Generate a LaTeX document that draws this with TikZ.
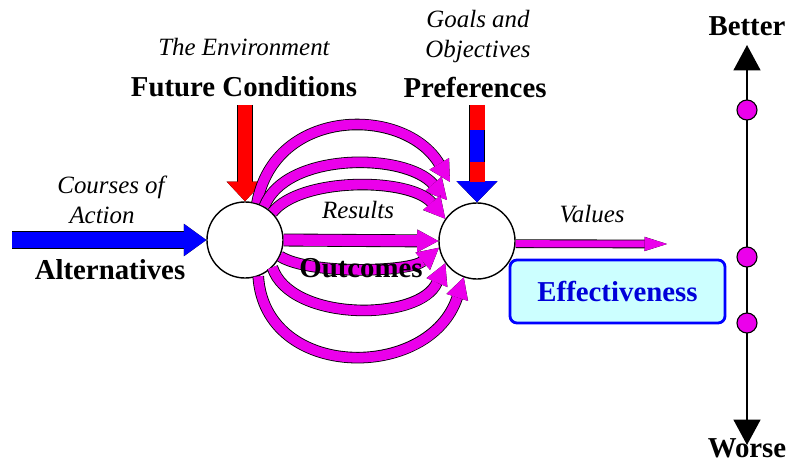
\documentclass[tikz,border=0pt]{standalone}
\usepackage{fontspec}
\setmainfont{Liberation Serif}[ItalicFont={Liberation Serif Italic}, BoldFont={Liberation Serif Bold}]
\usetikzlibrary{arrows.meta}
\definecolor{mag}{RGB}{235,0,235}
\definecolor{lightcyan}{RGB}{204,255,255}

\begin{document}
\begin{tikzpicture}[x=0.025cm, y=-0.025cm,
  bigtext/.style={font=\fontsize{20.5}{22}\selectfont\bfseries, inner sep=0pt, anchor=base},
  smalltext/.style={font=\fontsize{17.7}{19}\selectfont\itshape, inner sep=0pt, anchor=base},
  ring/.style={circle, draw, line width=1pt, fill=white, minimum size=1.9cm, inner sep=0pt},
  fat/.style n args={4}{draw=#4, line width=#1, -{Triangle[width=#2, length=#3, line width=0pt]},
    preaction={draw=black, line width=#1+1.2pt, -{Triangle[width=#2, length=#3, line width=1pt]}}},
  dot/.style={circle, draw, line width=0.8pt, fill=mag, minimum size=0.5cm, inner sep=0pt}]
  \useasboundingbox (0,0) rectangle (788,464);
  % the two meeting points
  \node[ring] (oc) at (245,240) {};
  \node[ring] (vc) at (477,241) {};
  \node[draw=blue, line width=2pt, fill=lightcyan, rounded corners=5pt, minimum width=5.375cm,
    minimum height=1.575cm, font=\fontsize{20.5}{22}\selectfont\bfseries, text=blue!85!black] (eff) at (617.5,291.5) {Effectiveness};
  \coordinate (altin) at (12,240);
  \coordinate (envin) at (245,105);
  \coordinate (prefin) at (477,105);
  \coordinate (valend) at (667,244);
  \coordinate (tipA) at (450,182);
  \coordinate (tipB) at (447,200);
  % inputs
  \draw[fat={12pt}{23pt}{16pt}{blue}] (altin) -- (oc.west);
  \draw[fat={10pt}{26pt}{14pt}{red}] (envin) -- (oc.north);
  \draw[fat={10.6pt}{29pt}{15pt}{blue}] (prefin) -- (vc.north);
  \fill[red] (469.5,105) rectangle (484.5,130);
  \fill[red] (469.5,162) rectangle (484.5,182);
  % results
  \draw[fat={7pt}{16pt}{15pt}{mag}] (oc.72) .. controls (275,106) and (405,106) .. (tipA);
  \draw[fat={7pt}{16pt}{15pt}{mag}] (oc.60) .. controls (285,152) and (405,152) .. (tipB);
  \draw[fat={7pt}{16pt}{15pt}{mag}] (oc.45) .. controls (300,177) and (410,177) .. (vc.145);
  \draw[fat={8pt}{16pt}{15pt}{mag}] (oc.east) -- (vc.west);
  \draw[fat={7pt}{16pt}{15pt}{mag}] (oc.-25) .. controls (310,275) and (410,272) .. (vc.190);
  \draw[fat={7pt}{16pt}{15pt}{mag}] (oc.-45) .. controls (290,322) and (420,322) .. (vc.215);
  \draw[fat={7pt}{16pt}{15pt}{mag}] (oc.-70) .. controls (265,381) and (430,381) .. (vc.250);
  \draw[fat={5pt}{10pt}{16pt}{mag}] (vc.-4) -- (valend);
  % scale
  \coordinate (top) at (747,45);
  \coordinate (bot) at (747,445);
  \draw[line width=1.5pt, {Triangle[width=19pt,length=18pt]}-{Triangle[width=19pt,length=18pt]}] (top) -- (bot);
  \node[dot] (d1) at (747,110) {};
  \node[dot] (d2) at (747,257) {};
  \node[dot] (d3) at (747,323) {};
  \node[bigtext] (better) at (747,36) {Better};
  \node[bigtext] (worse) at (747,457) {Worse};
  % labels
  \node[smalltext] (env) at (244,56) {The Environment};
  \node[bigtext] (fut) at (244,97) {Future Conditions};
  \node[smalltext] (goals) at (478,28) {Goals and};
  \node[smalltext] (obj) at (478,58) {Objectives};
  \node[bigtext] (pref) at (475,98) {Preferences};
  \node[smalltext] (courses) at (111,194) {Courses of};
  \node[smalltext] (action) at (102,224) {Action};
  \node[bigtext] (alt) at (110,280) {Alternatives};
  \node[smalltext] (res) at (358,219) {Results};
  \node[bigtext] (outc) at (361,278) {Outcomes};
  \node[smalltext] (val) at (592,223) {Values};
\end{tikzpicture}
\end{document}
